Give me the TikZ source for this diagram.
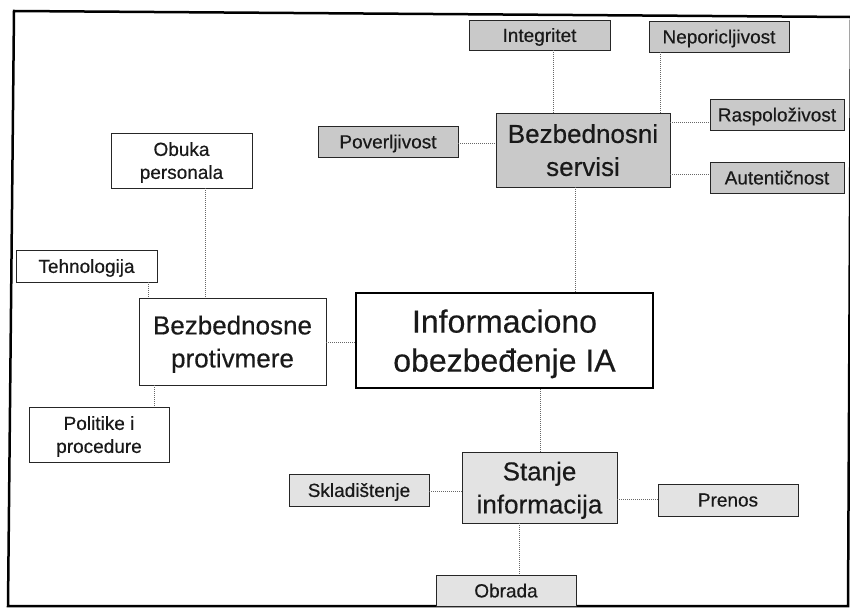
\documentclass[tikz,border=0pt]{standalone}
\usepackage{fontspec}
\setmainfont{Liberation Sans}[FakeBold=0.4]
\begin{document}
\begin{tikzpicture}[x=1pt,y=-1pt,
 box/.style={draw=black!85, line width=0.9pt, inner sep=0pt, align=center, text=black!90, text depth=0pt},
 small/.style={box, font=\fontsize{19}{23}\selectfont},
 med/.style={box, font=\fontsize{26}{33}\selectfont},
 big/.style={box, draw=black, line width=2.6pt, font=\fontsize{32}{39}\selectfont},
 dark/.style={fill=black!21},
 light/.style={fill=black!11},
 plain/.style={fill=white},
 link/.style={draw=black!60, line width=0.9pt, dash pattern=on 1pt off 1pt},
 frame/.style={draw=black, line width=2.5pt, line join=miter}]
\useasboundingbox (0,0) rectangle (850,609);
\draw[frame] (14,11) -- (851,17) -- (848,606) -- (8,606) -- cycle;

% Bezbednosni servisi group
\node[med,dark,minimum width=174,minimum height=74] (serv) at (583,150) {Bezbednosni\\servisi};
\node[small,dark,minimum width=141,minimum height=30] (integ) at (539.5,35) {Integritet};
\node[small,dark,minimum width=140,minimum height=31] (nepo) at (719,36.5) {Neporicljivost};
\node[small,dark,minimum width=134,minimum height=31] (rasp) at (777,114.5) {Raspoloživost};
\node[small,dark,minimum width=140,minimum height=31] (pover) at (388,141.5) {Poverljivost};
\node[small,dark,minimum width=134,minimum height=31] (auten) at (777,177.5) {Autentičnost};

% main
\node[big,plain,minimum width=297,minimum height=95] (main) at (504.5,340.5) {Informaciono\\obezbeđenje IA};

% Bezbednosne protivmere group
\node[med,plain,minimum width=187,minimum height=87] (prot) at (232.5,341.5) {Bezbednosne\\protivmere};
\node[small,plain,minimum width=141,minimum height=55] (obuka) at (181.5,160.5) {Obuka\\personala};
\node[small,plain,minimum width=141,minimum height=32] (tehno) at (86.5,266) {Tehnologija};
\node[small,plain,minimum width=140,minimum height=55] (polit) at (99,434.5) {Politike i\\procedure};

% Stanje informacija group
\node[med,light,minimum width=155,minimum height=71] (stanje) at (539.5,487.5) {Stanje\\informacija};
\node[small,light,minimum width=140,minimum height=32] (sklad) at (359,490) {Skladištenje};
\node[small,light,minimum width=140,minimum height=32] (prenos) at (728,500) {Prenos};
\node[small,light,minimum width=140,minimum height=31] (obrada) at (506,590.5) {Obrada};

% guide coordinates
\coordinate (xint) at (553,0);
\coordinate (xnep) at (660,0);
\coordinate (yras) at (0,122);
\coordinate (ypov) at (0,143);
\coordinate (yaut) at (0,174);
\coordinate (xsm) at (575,0);
\coordinate (xob) at (205,0);
\coordinate (xte) at (148,0);
\coordinate (xpo) at (154,0);
\coordinate (ypm) at (0,342);
\coordinate (xms) at (540,0);
\coordinate (ysk) at (0,491);
\coordinate (ypr) at (0,499);
\coordinate (xor) at (519,0);

% connectors
\draw[link] (integ.south -| xint) -- (serv.north -| xint);
\draw[link] (nepo.south -| xnep) -- (serv.north -| xnep);
\draw[link] (serv.east |- yras) -- (rasp.west |- yras);
\draw[link] (pover.east |- ypov) -- (serv.west |- ypov);
\draw[link] (serv.east |- yaut) -- (auten.west |- yaut);
\draw[link] (serv.south -| xsm) -- (main.north -| xsm);
\draw[link] (obuka.south -| xob) -- (prot.north -| xob);
\draw[link] (tehno.south -| xte) -- (prot.north -| xte);
\draw[link] (prot.south -| xpo) -- (polit.north -| xpo);
\draw[link] (prot.east |- ypm) -- (main.west |- ypm);
\draw[link] (main.south -| xms) -- (stanje.north -| xms);
\draw[link] (sklad.east |- ysk) -- (stanje.west |- ysk);
\draw[link] (stanje.east |- ypr) -- (prenos.west |- ypr);
\draw[link] (stanje.south -| xor) -- (obrada.north -| xor);
\end{tikzpicture}
\end{document}
